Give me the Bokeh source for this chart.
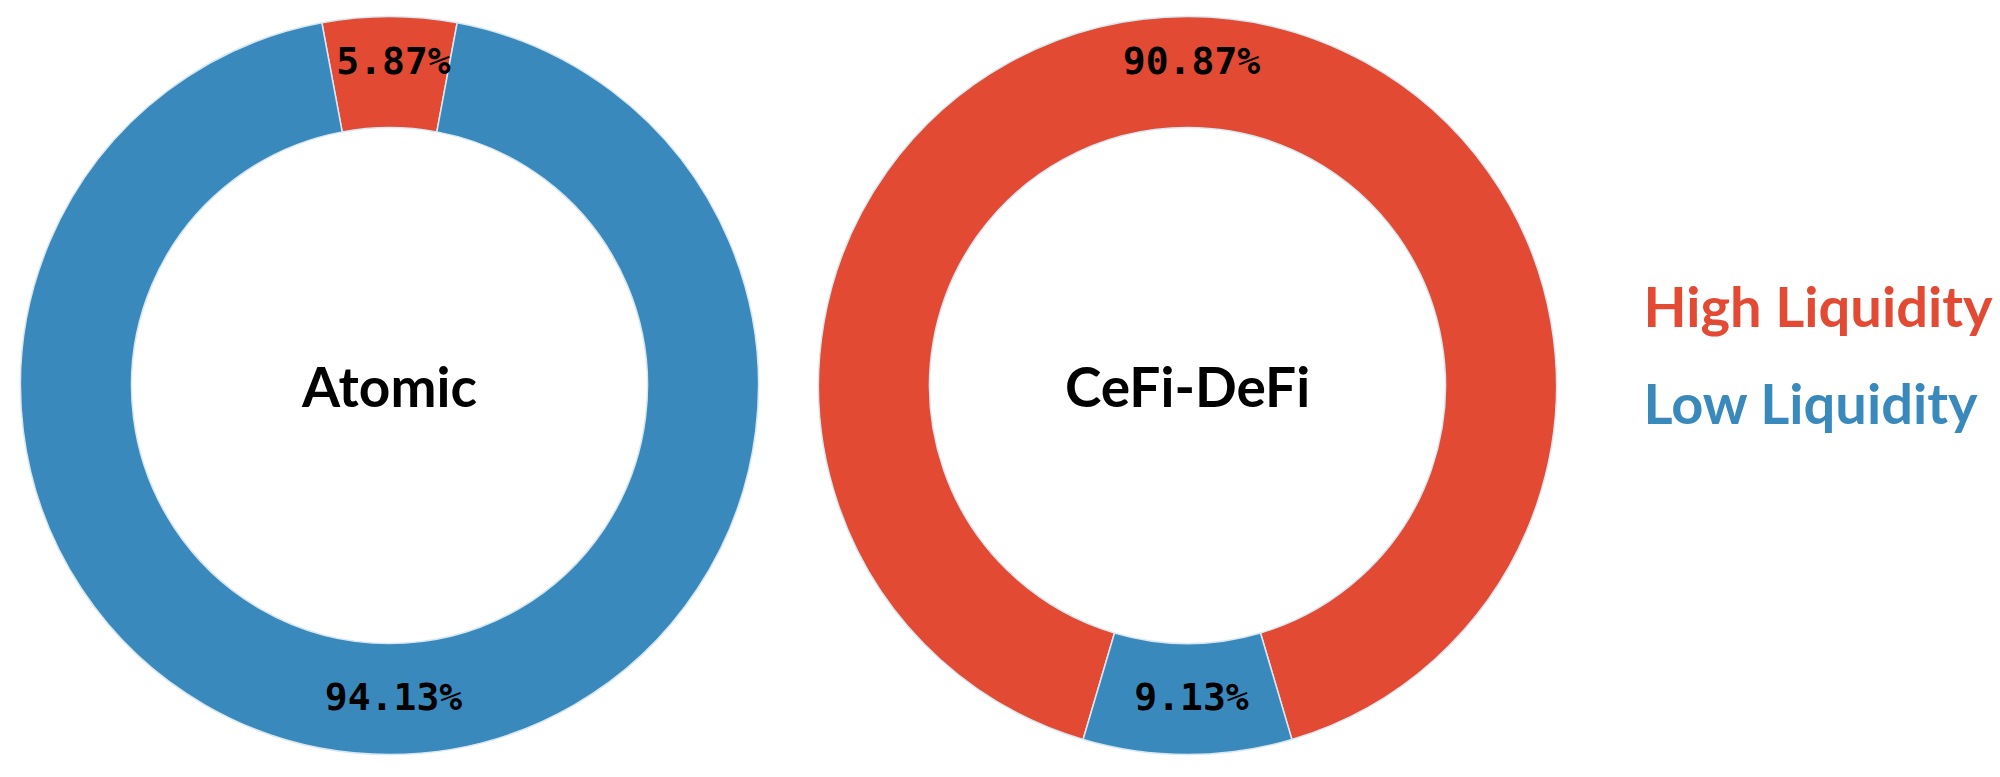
import math
from bokeh.plotting import figure
from bokeh.models import Range1d, ColumnDataSource
from bokeh.core.properties import value
from bokeh.embed import file_html
from bokeh.resources import INLINE

# ---- data ----
groups = ["Atomic", "CeFi-DeFi"]
high_liquidity = [5.87, 90.87]
low_liquidity = [94.13, 9.13]
series_names = ["High Liquidity", "Low Liquidity"]

# ---- style ----
RED = "#E24A33"
BLUE = "#3A89BD"
W, H = 2000, 777
centers_x = [389, 1187]
center_y = 777 - 385
R_OUT, R_IN = 369, 258
LABEL_R = 318

p = figure(width=W, height=H, output_backend="svg", toolbar_location=None,
           x_range=Range1d(0, W), y_range=Range1d(0, H),
           min_border=0)
p.axis.visible = False
p.grid.visible = False
p.outline_line_color = None
p.background_fill_color = "white"

wx, wy, ws, we, wc = [], [], [], [], []
lx, ly, lt = [], [], []
for i, g in enumerate(groups):
    hi = high_liquidity[i]
    lo = low_liquidity[i]
    tot = hi + lo
    half = math.pi * hi / tot
    top = math.pi / 2
    s_hi, e_hi = top - half, top + half
    wx.append(centers_x[i]); wy.append(center_y); ws.append(s_hi); we.append(e_hi); wc.append(RED)
    wx.append(centers_x[i]); wy.append(center_y); ws.append(e_hi); we.append(s_hi + 2 * math.pi); wc.append(BLUE)
    mid_hi = (s_hi + e_hi) / 2
    mid_lo = (e_hi + s_hi + 2 * math.pi) / 2
    lx.append(centers_x[i] + LABEL_R * math.cos(mid_hi)); ly.append(center_y + LABEL_R * math.sin(mid_hi)); lt.append(f"{hi:.2f}%")
    lx.append(centers_x[i] + LABEL_R * math.cos(mid_lo)); ly.append(center_y + LABEL_R * math.sin(mid_lo)); lt.append(f"{lo:.2f}%")

src = ColumnDataSource(dict(x=wx, y=wy, s=ws, e=we, c=wc))
p.annular_wedge(x="x", y="y", inner_radius=R_IN, outer_radius=R_OUT,
                start_angle="s", end_angle="e", fill_color="c",
                line_color="#d8e8f2", line_width=1.5, source=src)

lsrc = ColumnDataSource(dict(x=lx, y=ly, t=lt))
p.text(x="x", y="y", text="t", source=lsrc, text_align="center", text_baseline="middle",
       text_font=value("DejaVu Sans Mono"), text_font_style="bold",
       text_font_size="38px", text_color="black", x_offset=4, y_offset=-7)

csrc = ColumnDataSource(dict(x=centers_x, y=[center_y] * len(groups), t=groups))
p.text(x="x", y="y", text="t", source=csrc, text_align="center", text_baseline="middle",
       text_font=value("Lato"), text_font_style="bold", text_font_size="55px",
       text_color="black")

leg_x = [1643, 1643]
leg_y = [777 - 305, 777 - 402]
gsrc = ColumnDataSource(dict(x=leg_x, y=leg_y, t=series_names, c=[RED, BLUE]))
p.text(x="x", y="y", text="t", text_color="c", source=gsrc, text_align="left",
       text_baseline="alphabetic", text_font=value("Lato"), text_font_style="bold",
       text_font_size="56px")

open("out.html", "w").write(file_html(p, INLINE))
